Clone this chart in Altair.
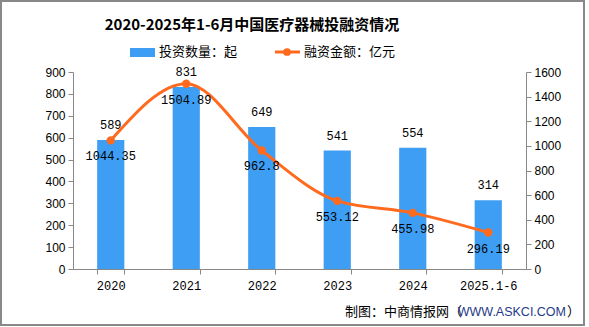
import altair as alt
import pandas as pd

categories = ["2020", "2021", "2022", "2023", "2024", "2025.1-6"]
deals = [589, 831, 649, 541, 554, 314]
amounts = [1044.35, 1504.89, 962.8, 553.12, 455.98, 296.19]
left_ticks = [0, 100, 200, 300, 400, 500, 600, 700, 800, 900]
right_ticks = [0, 200, 400, 600, 800, 1000, 1200, 1400, 1600]

df = pd.DataFrame({"cat": categories, "deals": deals, "amount": amounts,
                   "amount_label": ["1044.35", "1504.89", "962.8", "553.12", "455.98", "296.19"]})

W, H = 453, 197
BLUE = "#3E9EF3"
ORANGE = "#FF6A1F"
FONT = "Noto Sans CJK SC"
NUMFONT = "Liberation Mono"

x_axis = alt.Axis(labelAngle=0, labelFont=NUMFONT, labelFontSize=12, labelColor="#000",
                  domainColor="#888", tickColor="#888", tickSize=5,
                  tickBand="extent", labelPadding=6)
x_scale = alt.Scale(paddingInner=0.64, paddingOuter=0.32)
yl_axis = alt.Axis(values=left_ticks, labelFont="Liberation Sans",
                   labelFontSize=12, labelColor="#000", domainColor="#888",
                   tickColor="#888", tickSize=5, grid=False, labelPadding=3,
                   labelOverlap=False, format="d")
yr_axis = alt.Axis(orient="right", values=right_ticks,
                   labelFont="Liberation Sans", labelFontSize=12, labelColor="#000",
                   domainColor="#888", tickColor="#888", tickSize=5, grid=False,
                   labelPadding=3, labelOverlap=False, format="d")

def X():
    return alt.X("cat:N", sort=categories, title=None, scale=x_scale, axis=x_axis)

def YL():
    return alt.Y("deals:Q", scale=alt.Scale(domain=[0, 900]), title=None, axis=yl_axis)

def YR():
    return alt.Y("amount:Q", scale=alt.Scale(domain=[0, 1600]), title=None, axis=yr_axis)

base = alt.Chart(df)

bars = base.mark_bar(color=BLUE).encode(x=X(), y=YL())
bar_text = base.mark_text(baseline="bottom", dy=-8, font=NUMFONT, fontSize=12, color="#000").encode(
    x=X(), y=YL(), text="deals:Q")

line = base.mark_line(color=ORANGE, strokeWidth=3, interpolate="monotone").encode(x=X(), y=YR())
pts = base.mark_circle(color=ORANGE, size=70, opacity=1).encode(x=X(), y=YR())
line_text = base.mark_text(baseline="top", dy=11, font=NUMFONT, fontSize=12, color="#000").encode(
    x=X(), y=YR(), text="amount_label:N")

one = pd.DataFrame({"a": [0]})
ann = alt.Chart(one)

title = ann.mark_text(text="2020-2025年1-6月中国医疗器械投融资情况", font=FONT, fontSize=15,
                      fontWeight="bold", color="#000", align="center", baseline="middle").encode(
    x=alt.value(179), y=alt.value(-47))

sw = ann.mark_rect(color=BLUE).encode(x=alt.value(57), x2=alt.value(82), y=alt.value(-24), y2=alt.value(-15))
sw_t = ann.mark_text(text="投资数量：起", font=FONT, fontSize=13, color="#000", align="left",
                     baseline="middle").encode(x=alt.value(86), y=alt.value(-20))
ln = ann.mark_rule(color=ORANGE, strokeWidth=3).encode(x=alt.value(202), x2=alt.value(227), y=alt.value(-20))
lp = ann.mark_circle(color=ORANGE, size=60, opacity=1).encode(x=alt.value(214), y=alt.value(-20))
ln_t = ann.mark_text(text="融资金额：亿元", font=FONT, fontSize=13, color="#000", align="left",
                     baseline="middle").encode(x=alt.value(231), y=alt.value(-20))

wm1 = ann.mark_text(text="制图：中商情报网（", font=FONT, fontSize=13, color="#000", align="left",
                    baseline="middle").encode(x=alt.value(272), y=alt.value(240))
wm2 = ann.mark_text(text="WWW.ASKCI.COM", font="Liberation Sans", fontSize=12.5, color="#1F3A8A",
                    align="right", baseline="middle").encode(x=alt.value(493), y=alt.value(240))
wm3 = ann.mark_text(text="）", font=FONT, fontSize=13, color="#000", align="left",
                    baseline="middle").encode(x=alt.value(494), y=alt.value(240))

frame = ann.mark_rect(fill=None, stroke="#888", strokeWidth=2).encode(
    x=alt.value(-72), x2=alt.value(511), y=alt.value(-71), y2=alt.value(253))

left = alt.layer(bars, bar_text)
right = alt.layer(line, pts, line_text)

chart = alt.layer(left, right, title, sw, sw_t, ln, lp, ln_t, wm1, wm2, wm3, frame).resolve_scale(
    y="independent").properties(
    width=W, height=H,
    autosize=alt.AutoSizeParams(type="none"),
    padding={"left": 73, "top": 72, "right": 63, "bottom": 58},
).configure_view(stroke=None)

chart.save("out.html", embed_options={"renderer": "svg", "actions": False})
